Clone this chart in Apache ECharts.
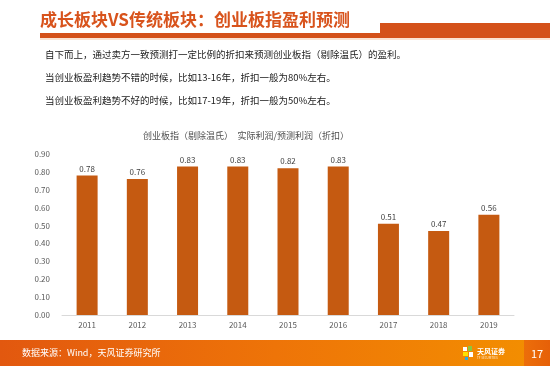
<!DOCTYPE html>
<html>
<head>
<meta charset="utf-8">
<script src="https://cdn.jsdelivr.net/npm/echarts@6/dist/echarts.min.js"></script>
<style>
html,body{margin:0;padding:0;background:#fff;}
#main{width:550px;height:366px;}
</style>
</head>
<body>
<div id="main"></div>
<script>
var categories = ['2011','2012','2013','2014','2015','2016','2017','2018','2019'];
var discountValues = [0.78, 0.76, 0.83, 0.83, 0.82, 0.83, 0.51, 0.47, 0.56];
var yTicks = {min: 0, max: 0.9, interval: 0.1};
var pageTitle = '成长板块VS传统板块：创业板指盈利预测';
var bodyLines = [
  '自下而上，通过卖方一致预测打一定比例的折扣来预测创业板指（剔除温氏）的盈利。',
  '当创业板盈利趋势不错的时候，比如13-16年，折扣一般为80%左右。',
  '当创业板盈利趋势不好的时候，比如17-19年，折扣一般为50%左右。'
];
var chartTitle = '创业板指（剔除温氏）　实际利润/预测利润（折扣）';
var sourceText = '数据来源：Wind，天风证券研究所';
var pageNum = '17';

var FONT = '"Noto Sans CJK SC","Noto Sans",sans-serif';
var chart = echarts.init(document.getElementById('main'), null, {renderer: 'canvas'});

var graphics = [
  {type:'text', left:40, top:11, style:{text:pageTitle, fill:'#D8531C', font:'bold 17px ' + FONT}},
  {type:'rect', shape:{x:40, y:33, width:510, height:5}, style:{fill:'#D4511A'}},
  {type:'rect', shape:{x:380, y:23, width:170, height:15}, style:{fill:'#D4511A'}},
  {type:'rect', shape:{x:40, y:38, width:510, height:2}, style:{fill:'#FBE3D3'}},
  {type:'rect', shape:{x:0, y:340, width:550, height:26}, style:{fill:new echarts.graphic.LinearGradient(0,0,1,0,[{offset:0,color:'#E2580F'},{offset:0.5,color:'#EE7408'},{offset:1,color:'#F39000'}])}},
  {type:'rect', shape:{x:524, y:340, width:26, height:26}, style:{fill:new echarts.graphic.LinearGradient(0,0,1,0,[{offset:0,color:'#EC6E0A'},{offset:1,color:'#E66008'}])}},
  {type:'text', left:22, top:348, style:{text:sourceText, fill:'#FFFFFF', font:'9px ' + FONT}},
  {type:'text', left:531, top:348, style:{text:pageNum, fill:'#FFFFFF', font:'11px ' + FONT}},
  {type:'rect', shape:{x:463, y:347, width:4, height:4}, style:{fill:'#FFFFFF'}},
  {type:'rect', shape:{x:468, y:346, width:4, height:5}, style:{fill:'#8CC63F'}},
  {type:'rect', shape:{x:463, y:352, width:5, height:4}, style:{fill:'#FFE100'}},
  {type:'rect', shape:{x:469, y:352, width:4, height:5}, style:{fill:'#FFFFFF'}},
  {type:'rect', shape:{x:465, y:357, width:3, height:3}, style:{fill:'#29ABE2'}},
  {type:'text', left:477, top:348, style:{text:'天风证券', fill:'#FFFFFF', font:'bold 7px ' + FONT}},
  {type:'text', left:477, top:356, style:{text:'TF SECURITIES', fill:'#FFE9D0', font:'3px ' + FONT}}
];
var bodyY = [50, 73, 96];
bodyLines.forEach(function(t, i){
  graphics.push({type:'text', left:45, top:bodyY[i], style:{text:t, fill:'#222222', font:'9.5px ' + FONT}});
});

chart.setOption({
  animation: false,
  textStyle: {fontFamily: FONT},
  title: {
    text: chartTitle, left: 241, top: 126, textAlign: 'center',
    textStyle: {fontSize: 9, fontWeight: 'normal', color: '#4D4D4D', fontFamily: FONT}
  },
  grid: {left: 62, right: 36, top: 154, bottom: 51, containLabel: false},
  xAxis: {
    type: 'category', data: categories,
    axisLine: {lineStyle: {color: '#D9D9D9', width: 1}},
    axisTick: {show: false},
    axisLabel: {color: '#595959', fontSize: 8, margin: 6, fontFamily: FONT}
  },
  yAxis: {
    type: 'value', min: yTicks.min, max: yTicks.max, interval: yTicks.interval,
    axisLine: {show: false}, axisTick: {show: false}, splitLine: {show: false},
    axisLabel: {color: '#595959', fontSize: 8, margin: 12, fontFamily: FONT,
      formatter: function(v){ return v.toFixed(2); }}
  },
  series: [{
    type: 'bar', data: discountValues, barWidth: 21,
    itemStyle: {color: '#C55A11'},
    label: {show: true, position: 'top', distance: 3, color: '#404040', fontSize: 8, fontFamily: FONT,
      formatter: function(p){ return p.value.toFixed(2); }}
  }],
  graphic: graphics
});
</script>
</body>
</html>
